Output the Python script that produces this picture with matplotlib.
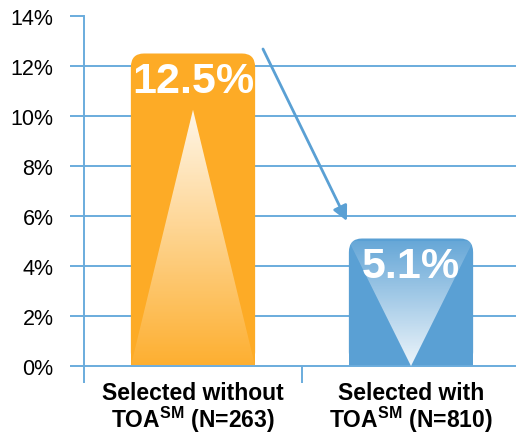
import numpy as np
import matplotlib
matplotlib.use("Agg")
import matplotlib.pyplot as plt
from matplotlib.patches import FancyBboxPatch, Rectangle, Polygon

plt.rcParams["font.family"] = ["Liberation Sans", "DejaVu Sans"]
plt.rcParams["mathtext.fontset"] = "custom"
plt.rcParams["mathtext.rm"] = "Liberation Sans"
plt.rcParams["mathtext.bf"] = "Liberation Sans:bold"

# Data
category_line1 = ["Selected without", "Selected with"]
category_line2 = ["TOA$^{\\mathbf{SM}}$ (N=263)", "TOA$^{\\mathbf{SM}}$ (N=810)"]
values = [12.5, 5.1]
value_labels = ["12.5%", "5.1%"]
y_ticks = [0, 2, 4, 6, 8, 10, 12, 14]
y_tick_labels = ["0%", "2%", "4%", "6%", "8%", "10%", "12%", "14%"]

bar_colors = ["#FDAB26", "#5AA0D4"]
axis_blue = "#6AACDD"
bar_width = 0.57

fig = plt.figure(figsize=(5.16, 4.35), dpi=100)
ax = fig.add_axes([84 / 516, 68 / 435, 436 / 516, 350 / 435])
ax.set_xlim(-0.5, 1.5)
ax.set_ylim(0, 14)

# Grid and axes styling
ax.set_yticks(y_ticks)
ax.set_yticklabels(y_tick_labels, fontsize=15.5)
ax.grid(axis="y", color=axis_blue, lw=1.4, zorder=0)
ax.yaxis.get_gridlines()[-1].set_visible(False)
ax.yaxis.get_gridlines()[0].set_visible(False)
ax.tick_params(axis="y", length=10, width=1.4, color=axis_blue, pad=12)
ax.set_xticks([0, 1])
ax.set_xticklabels([])
ax.set_xticks([-0.5, 0.5, 1.5], minor=True)
ax.tick_params(axis="x", which="major", length=0)
ax.tick_params(axis="x", which="minor", length=12, width=1.4, color=axis_blue)
for s in ["top", "right"]:
    ax.spines[s].set_visible(False)
for s in ["left", "bottom"]:
    ax.spines[s].set_color(axis_blue)
    ax.spines[s].set_linewidth(1.4)
ax.set_axisbelow(True)

# Two-line category labels under the axis
for i in range(len(values)):
    ax.annotate(category_line1[i], xy=(i, 0), xycoords=("data", "axes fraction"),
                xytext=(0, -24), textcoords="offset points",
                ha="center", va="baseline", fontsize=16.5, fontweight="bold")
    ax.annotate(category_line2[i], xy=(i, 0), xycoords=("data", "axes fraction"),
                xytext=(0, -43.5), textcoords="offset points",
                ha="center", va="baseline", fontsize=16.5, fontweight="bold")

# Rounded-top bars with a light gradient triangle inside
rx = 0.06
ry = 0.55
grad = np.linspace(0, 1, 256).reshape(-1, 1)
for i, (v, c) in enumerate(zip(values, bar_colors)):
    x0 = i - bar_width / 2
    cap = FancyBboxPatch((x0, 0), bar_width, v,
                         boxstyle=f"round,pad=0,rounding_size={rx}",
                         mutation_aspect=ry / rx, fc=c, ec="none", zorder=2)
    ax.add_patch(cap)
    ax.add_patch(Rectangle((x0, 0), bar_width, v - ry * 1.2,
                           fc=c, ec="none", zorder=2))
    if i == 0:
        tri = Polygon([(x0, 0), (i, v * 0.82), (x0 + bar_width, 0)],
                      closed=True, fc="none", ec="none")
        alpha = 0.05 + 0.85 * grad  # white at the apex
        extent = (x0, x0 + bar_width, 0, v * 0.82)
    else:
        tri = Polygon([(x0, v * 0.98), (x0 + bar_width, v * 0.98), (i, 0)],
                      closed=True, fc="none", ec="none")
        alpha = 0.08 + 0.82 * (1 - grad)  # white at the bottom point
        extent = (x0, x0 + bar_width, 0, v * 0.98)
    ax.add_patch(tri)
    rgba = np.ones((256, 1, 4))
    rgba[..., 3] = alpha
    im = ax.imshow(rgba, extent=extent, origin="lower", aspect="auto",
                   interpolation="bilinear", zorder=3)
    im.set_clip_path(tri)
    ax.text(i, v - 1.1, value_labels[i], ha="center", va="center",
            color="white", fontsize=31, fontweight="bold", zorder=4)

ax.set_xlim(-0.5, 1.5)
ax.set_ylim(0, 14)

# Decrease arrow
ax.annotate("", xy=(0.706, 5.8), xytext=(0.321, 12.68),
            arrowprops=dict(arrowstyle="-|>", color="#5AA0D4", lw=2,
                            mutation_scale=22, shrinkA=0, shrinkB=0),
            zorder=5)

fig.savefig("out.png", dpi=100)
